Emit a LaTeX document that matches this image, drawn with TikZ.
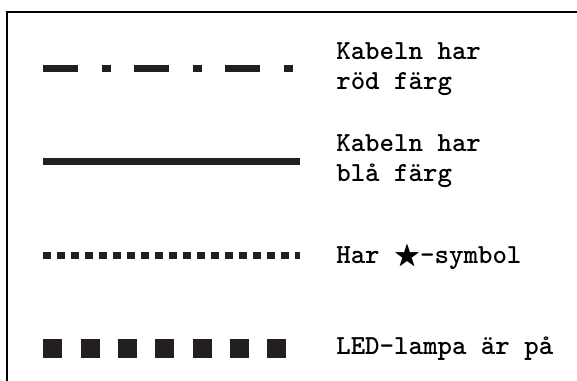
\documentclass[tikz,border=0pt]{standalone}
\usepackage{amssymb}
\usepackage{fontspec}
\usepackage{xcolor}
\usepackage{tikz}
\usetikzlibrary{positioning}

\definecolor{blacklinje}{RGB}{35,31,32}

\begin{document}
\begin{tikzpicture}[
  x=0.25mm, y=-0.25mm,
  ram/.style={line width=0.5mm},
  rod/.style={draw=blacklinje, line width=1.75mm,
    dash pattern=on 8.75mm off 5.85mm on 2.33mm off 5.82mm},
  bla/.style={draw=blacklinje, line width=1.67mm},
  stjarna/.style={draw=blacklinje, line width=1.92mm,
    dash pattern=on 1.92mm off 1.58mm},
  led/.style={draw=blacklinje, line width=4.75mm,
    dash pattern=on 4.75mm off 4.58mm},
  etikett/.style={anchor=base west, inner sep=0pt, align=left,
    font=\fontsize{19.6pt}{21.3pt}\selectfont\ttfamily\bfseries}
]
  \useasboundingbox (0,0) rectangle (577,381);

  % ram
  \draw[ram] (577,11.7) -| (6.5,381);

  % linjer
  \coordinate (rodA) at (43.3,68.5);
  \coordinate (rodB) at (293.7,68.5);
  \coordinate (blaA) at (43.3,161.7);
  \coordinate (blaB) at (300.3,161.7);
  \coordinate (stjA) at (43.3,255.5);
  \coordinate (stjB) at (300.3,255.5);
  \coordinate (ledA) at (43.3,348.8);
  \coordinate (ledB) at (286,348.8);

  \draw[rod] (rodA) -- (rodB);
  \draw[bla] (blaA) -- (blaB);
  \draw[stjarna] (stjA) -- (stjB);
  \draw[led] (ledA) -- (ledB);

  % texter (base = sista raden)
  \node[etikett] (rodtext) at (336,89.3) {Kabeln har\\röd färg};
  \node[etikett] (blatext) at (336,181.7) {Kabeln har\\blå färg};
  \node[etikett] (stjtext) at (336,263.3) {Har $\bigstar$-symbol};
  \node[etikett] (ledtext) at (336,354.3) {LED-lampa är på};
\end{tikzpicture}
\end{document}
